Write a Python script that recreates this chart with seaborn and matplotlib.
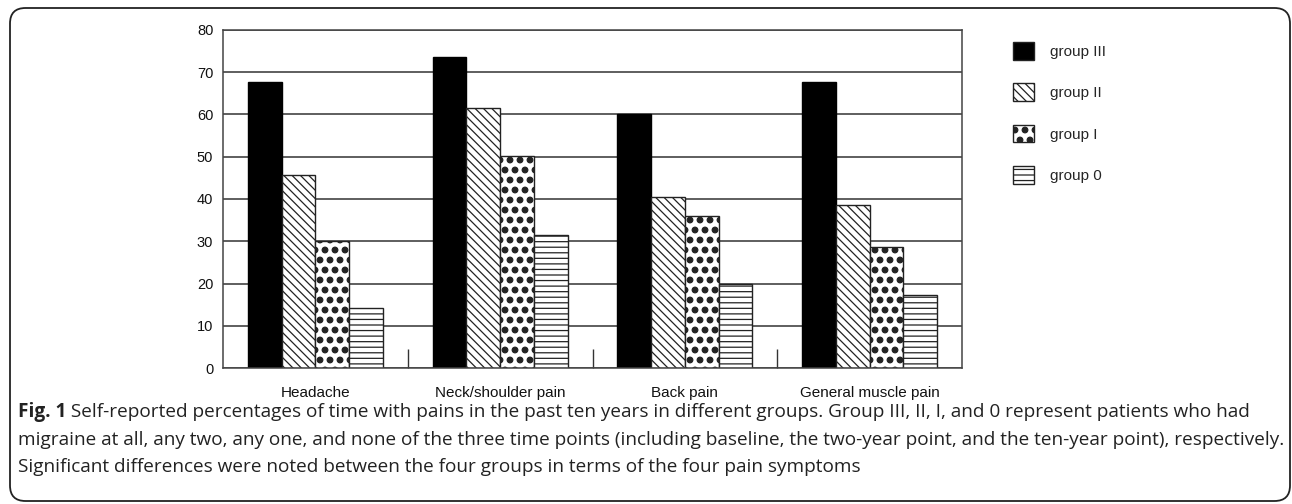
import numpy as np
import pandas as pd
import matplotlib
matplotlib.use("Agg")
import matplotlib as mpl
import matplotlib.hatch as mhatch
import matplotlib.pyplot as plt
import seaborn as sns
from matplotlib.patches import FancyBboxPatch, Patch
from matplotlib.ticker import FixedLocator

categories = ["Headache", "Neck/shoulder pain", "Back pain", "General muscle pain"]
groups = ["group III", "group II", "group I", "group 0"]
group_III = [67.6, 73.6, 60.0, 67.6]
group_II = [45.7, 61.5, 40.5, 38.5]
group_I = [30.0, 50.2, 36.0, 28.6]
group_0 = [14.1, 31.4, 19.8, 17.2]
y_ticks = [0, 10, 20, 30, 40, 50, 60, 70, 80]

caption_bold = "Fig. 1"
caption_lines = [
    " Self-reported percentages of time with pains in the past ten years in different groups. Group III, II, I, and 0 represent patients who had",
    "migraine at all, any two, any one, and none of the three time points (including baseline, the two-year point, and the ten-year point), respectively.",
    "Significant differences were noted between the four groups in terms of the four pain symptoms",
]

values = [group_III, group_II, group_I, group_0]
df = pd.DataFrame({
    "category": np.repeat([categories], 4, axis=0).ravel(),
    "group": np.repeat(groups, len(categories)),
    "value": np.concatenate(values),
})


# larger filled dots for the '.' hatch (style of "group I" bars)
class _BigDots(mhatch.SmallFilledCircles):
    size = 0.28

    def __init__(self, hatch, density):
        self.num_rows = hatch.count('.') * 5
        mhatch.Circles.__init__(self, hatch, density)


mhatch._hatch_types = [(_BigDots if t is mhatch.SmallFilledCircles else t)
                       for t in mhatch._hatch_types]

sns.set_theme(style="white")
plt.rcParams["font.family"] = ["Liberation Sans", "DejaVu Sans"]
plt.rcParams["hatch.linewidth"] = 0.9

W, H, DPI = 1292, 504, 100
fig = plt.figure(figsize=(W / DPI, H / DPI), dpi=DPI)
ax = fig.add_axes([223 / W, 1 - 368 / H, (962 - 223) / W, (368 - 30) / H])

palette = {"group III": "black", "group II": "white", "group I": "white", "group 0": "white"}
sns.barplot(data=df, x="category", y="value", hue="group", hue_order=groups,
            order=categories, palette=palette, width=0.73, gap=0,
            edgecolor="#222222", linewidth=1.0, saturation=1, ax=ax, legend=False)

hatches = {"group III": None, "group II": "\\\\\\\\", "group I": "..", "group 0": "---"}

for cont, g in zip(ax.containers, groups):
    for bar in cont:
        if hatches[g]:
            bar.set_hatch(hatches[g])
        if g == "group III":
            bar.set_edgecolor("black")

ax.set_ylim(0, 80)
ax.set_xlim(-0.5, 3.5)
ax.set_yticks(y_ticks)
ax.yaxis.grid(True, color="#333333", linewidth=1.1)
ax.set_axisbelow(True)
ax.set_xlabel("")
ax.set_ylabel("")
for s in ax.spines.values():
    s.set_color("#444444")
    s.set_linewidth(1.1)
ax.tick_params(axis="y", length=0, pad=7, labelsize=10.5, labelcolor="#111111")
ax.tick_params(axis="x", which="major", length=0, pad=13, labelsize=11, labelcolor="#111111")
ax.xaxis.set_minor_locator(FixedLocator([0.5, 1.5, 2.5]))
ax.tick_params(axis="x", which="minor", direction="in", length=14, width=1.0, color="#333333", bottom=True)

# legend
handles = []
for g in groups:
    p = Patch(facecolor=palette[g], edgecolor="#222222", hatch=hatches[g], linewidth=1.0)
    handles.append(p)
leg = fig.legend(handles, groups, loc="upper left", bbox_to_anchor=(1013 / W, 1 - 42 / H),
                 frameon=False, fontsize=11, handlelength=1.4, handleheight=1.4,
                 handletextpad=1.0, labelspacing=1.55, borderpad=0, borderaxespad=0)

# rounded frame
frame = FancyBboxPatch((10 / W, 1 - 501 / H), (1290 - 10) / W, (501 - 8) / H,
                       boxstyle="round,pad=0,rounding_size=0.012", transform=fig.transFigure,
                       facecolor="none", edgecolor="#222222", linewidth=1.3,
                       mutation_aspect=W / H)
fig.add_artist(frame)

# caption
cap_font = ["Open Sans", "DejaVu Sans"]
cap_size = 13.7
ys = [412, 440, 467]
t0 = fig.text(18 / W, 1 - ys[0] / H, caption_bold, fontsize=cap_size, fontweight="bold",
              family=cap_font, va="center", ha="left", color="#222222")
fig.canvas.draw()
bb = t0.get_window_extent()
fig.text(bb.x1 / W, 1 - ys[0] / H, caption_lines[0], fontsize=cap_size, family=cap_font,
         va="center", ha="left", color="#222222")
for line, y in zip(caption_lines[1:], ys[1:]):
    fig.text(18 / W, 1 - y / H, line, fontsize=cap_size, family=cap_font,
             va="center", ha="left", color="#222222")

fig.savefig("out.png", dpi=DPI)
